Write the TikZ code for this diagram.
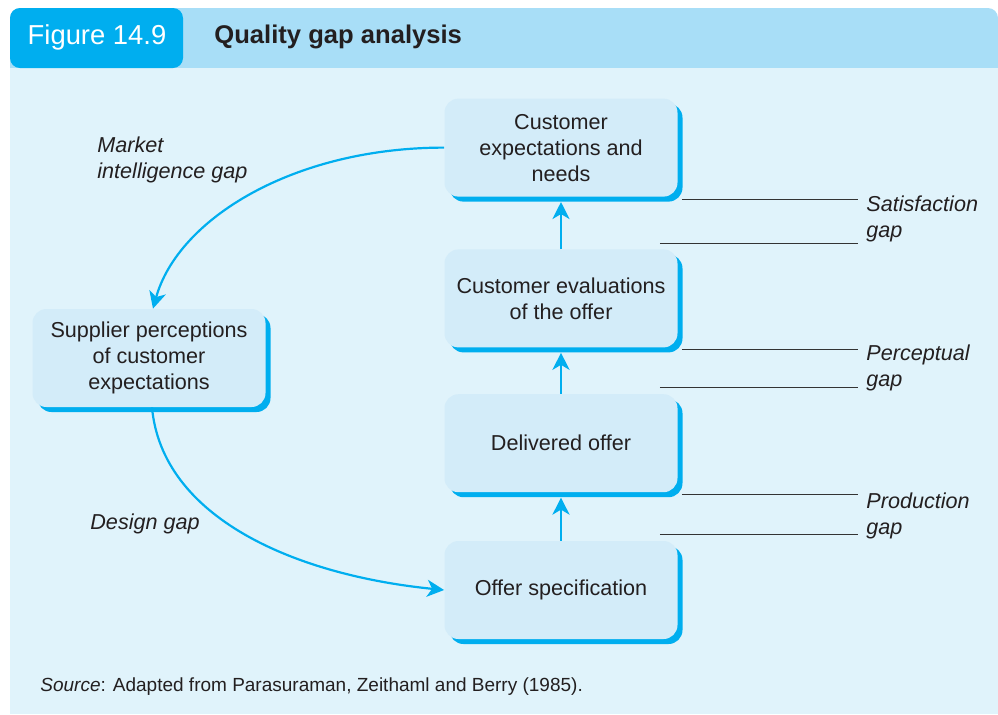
\documentclass[tikz,border=0pt]{standalone}
\usepackage{fontspec}
\setmainfont{Liberation Sans}
\usetikzlibrary{positioning, shadows, arrows.meta}

\definecolor{panelblue}{HTML}{E0F3FB}
\definecolor{headblue}{HTML}{A8DEF7}
\definecolor{figblue}{HTML}{00AEEF}
\definecolor{boxfill}{HTML}{D3ECF9}
\definecolor{gapgray}{HTML}{333333}
\definecolor{textgray}{HTML}{231F20}

\begin{document}
\begin{tikzpicture}[x=0.5pt, y=-0.5pt, >={Stealth[length=8.5pt, width=8.5pt, inset=2.5pt]}, text=textgray,
  gap box/.style={rectangle, rounded corners=7pt, fill=boxfill, minimum width=116.5pt, minimum height=49pt, align=center, font=\fontsize{10.8}{13}\selectfont, drop shadow={shadow xshift=2.5pt, shadow yshift=-2.5pt, fill=figblue, opacity=1}},
  flow/.style={->, draw=figblue, line width=1.4pt},
  curved flow/.style={flow, line width=1.1pt},
  gap line/.style={draw=gapgray, line width=0.5pt, shorten >=4pt},
  gap label/.style={anchor=west, inner sep=0pt, align=left, font=\fontsize{10.8}{13}\selectfont\itshape}]

  \useasboundingbox (0,0) rectangle (998,714);

  % Frame and heading
  \fill[headblue, rounded corners=5pt] (10,8) rectangle (998,80);
  \fill[panelblue] (10,68) rectangle (998,714);
  \fill[figblue, rounded corners=5pt] (10,8) rectangle (183,68);
  \node[font=\fontsize{13.7}{15}\selectfont, text=white] (fignum) at (97,37) {Figure 14.9};
  \node[anchor=west, inner sep=0pt, font=\fontsize{12.8}{15}\selectfont\bfseries] (title) at (214,37) {Quality gap analysis};

  % Boxes
  \node[gap box] (os) at (561,590) {Offer specification};
  \node[gap box] (do) [above=24pt of os] {Delivered offer};
  \node[gap box] (cev) [above=23pt of do] {Customer evaluations\\of the offer};
  \node[gap box] (ce) [above=26pt of cev] {Customer\\expectations and\\needs};
  \node[gap box] (sp) at (149,358) {Supplier perceptions\\of customer\\expectations};

  % Arrows
  \draw[flow] (os.north) -- ([yshift=-2.5pt]do.south);
  \draw[flow] (do.north) -- ([yshift=-2.5pt]cev.south);
  \draw[flow] (cev.north) -- ([yshift=-2.5pt]ce.south);
  \draw[curved flow] (ce.west) .. controls +(-150,0) and +(25,-90) .. ([xshift=2pt]sp.north);
  \draw[curved flow] ([xshift=1.5pt]sp.south) .. controls +(10,110) and +(-150,-15) .. (os.west);

  % Gap labels
  \node[gap label] (mig) at (97,160) {Market\\intelligence gap};
  \node[gap label] (dg) at (90,524) {Design gap};
  \node[gap label] (satgap) at (866,219) {Satisfaction\\gap};
  \node[gap label] (pergap) at (866,368) {Perceptual\\gap};
  \node[gap label] (progap) at (866,516) {Production\\gap};

  \coordinate (sathigh) at ([xshift=2pt, yshift=-1pt]ce.south east);
  \coordinate (satlow) at ([xshift=-9pt, yshift=3pt]cev.north east);
  \coordinate (perhigh) at ([xshift=2pt, yshift=-1pt]cev.south east);
  \coordinate (perlow) at ([xshift=-9pt, yshift=3pt]do.north east);
  \coordinate (prohigh) at ([xshift=2pt, yshift=-1pt]do.south east);
  \coordinate (prolow) at ([xshift=-9pt, yshift=3pt]os.north east);
  \draw[gap line] (sathigh) -- (sathigh -| satgap.west);
  \draw[gap line] (satlow) -- (satlow -| satgap.west);
  \draw[gap line] (perhigh) -- (perhigh -| pergap.west);
  \draw[gap line] (perlow) -- (perlow -| pergap.west);
  \draw[gap line] (prohigh) -- (prohigh -| progap.west);
  \draw[gap line] (prolow) -- (prolow -| progap.west);

  \node[anchor=west, inner sep=0pt, font=\fontsize{9.5}{11}\selectfont] (source) at (40,687) {\textit{Source}: Adapted from Parasuraman, Zeithaml and Berry (1985).};
\end{tikzpicture}
\end{document}
